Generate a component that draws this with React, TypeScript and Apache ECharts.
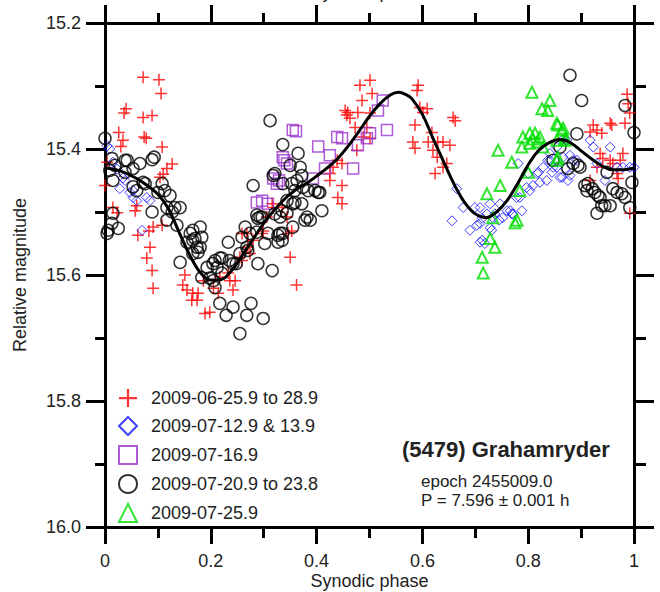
import React, { useEffect, useRef } from "react";
import * as echarts from "echarts";

const seriesNames = [
  "2009-06-25.9 to 28.9",
  "2009-07-12.9 & 13.9",
  "2009-07-16.9",
  "2009-07-20.9 to 23.8",
  "2009-07-25.9",
];

const xTicks = [0, 0.2, 0.4, 0.6, 0.8, 1];
const yTicks = [15.2, 15.4, 15.6, 15.8, 16.0];

const redCross: number[][] = [
  [0.072,15.286],[0.102,15.290],[0.106,15.312],[0.040,15.336],[0.036,15.343],[0.072,15.350],[0.089,15.347],
  [0.026,15.374],[0.074,15.381],[0.078,15.383],[0.034,15.386],[0.030,15.396],[0.108,15.397],[0.004,15.421],
  [0.127,15.424],[0.117,15.431],[0.110,15.440],[0.104,15.445],[0.000,15.458],[0.015,15.493],[0.023,15.501],
  [0.060,15.490],[0.057,15.498],[0.062,15.537],[0.083,15.530],[0.091,15.524],[0.085,15.556],[0.079,15.573],
  [0.089,15.593],[0.091,15.621],[0.108,15.521],[0.151,15.600],[0.147,15.616],[0.166,15.629],[0.155,15.624],
  [0.186,15.609],[0.205,15.621],[0.217,15.603],[0.236,15.609],[0.242,15.624],[0.255,15.572],[0.268,15.534],
  [0.280,15.545],[0.274,15.566],[0.299,15.530],[0.306,15.508],[0.318,15.493],[0.344,15.508],[0.350,15.572],
  [0.362,15.616],[0.174,15.640],[0.164,15.640],[0.189,15.661],[0.198,15.659],[0.176,15.629],[0.214,15.629],
  [0.233,15.597],[0.246,15.609],[0.259,15.577],[0.270,15.556],[0.259,15.534],[0.297,15.534],[0.316,15.487],
  [0.335,15.493],[0.346,15.534],[0.353,15.530],
  [0.501,15.291],[0.482,15.299],[0.505,15.312],[0.486,15.323],[0.454,15.339],[0.459,15.342],[0.457,15.346],
  [0.478,15.342],[0.501,15.343],[0.463,15.351],[0.473,15.366],[0.495,15.366],[0.488,15.381],[0.501,15.383],
  [0.476,15.402],[0.439,15.418],[0.431,15.429],[0.448,15.423],[0.425,15.450],[0.448,15.458],[0.440,15.477],
  [0.448,15.487],[0.425,15.439],
  [0.592,15.299],[0.590,15.307],[0.595,15.334],[0.609,15.336],[0.601,15.342],[0.658,15.350],[0.662,15.355],
  [0.586,15.362],[0.618,15.374],[0.582,15.389],[0.586,15.399],[0.611,15.389],[0.629,15.389],[0.639,15.389],
  [0.652,15.394],[0.620,15.402],[0.628,15.413],[0.646,15.423],[0.639,15.429],[0.624,15.439],
  [0.987,15.313],[0.989,15.328],[0.992,15.343],[0.983,15.359],[0.923,15.362],[0.930,15.370],[0.917,15.373],
  [0.939,15.375],[0.955,15.359],[0.958,15.362],[0.936,15.407],[0.941,15.415],[0.955,15.418],[0.960,15.423],
  [0.930,15.429],[0.979,15.407],[0.974,15.418],[0.968,15.439],[0.970,15.447],[0.917,15.450],[0.992,15.502],
];

const blueDiamond: number[][] = [
  [0.004,15.395],[0.009,15.400],[0.015,15.421],[0.023,15.432],[0.034,15.446],[0.038,15.450],[0.028,15.463],
  [0.047,15.469],[0.053,15.466],[0.053,15.477],[0.060,15.482],[0.079,15.477],[0.085,15.482],[0.070,15.529],
  [0.665,15.463],[0.656,15.514],[0.677,15.493],[0.699,15.493],[0.690,15.529],[0.703,15.521],[0.709,15.518],
  [0.709,15.548],[0.713,15.545],[0.728,15.487],[0.737,15.503],[0.752,15.509],[0.760,15.498],[0.731,15.529],
  [0.745,15.513],[0.769,15.503],[0.788,15.498],[0.778,15.477],[0.797,15.461],[0.781,15.423],[0.817,15.439],
  [0.822,15.453],[0.835,15.450],[0.841,15.418],[0.854,15.429],[0.866,15.413],[0.864,15.445],[0.875,15.450],
  [0.879,15.410],[0.873,15.386],[0.892,15.418],[0.917,15.386],[0.923,15.397],[0.955,15.397],[0.945,15.450],
  [0.930,15.423],[0.968,15.429],[0.979,15.429],[0.992,15.429],[1.000,15.429],[0.709,15.493],[0.722,15.503],
  [0.728,15.525],[0.733,15.509],[0.747,15.487],[0.766,15.498],[0.771,15.503],[0.784,15.477],[0.803,15.466],
  [0.809,15.458],[0.800,15.439],[0.819,15.437],[0.828,15.429],[0.837,15.418],[0.845,15.437],[0.847,15.429],
  [0.860,15.445],[0.870,15.431],[0.879,15.442],[0.885,15.418],[0.841,15.407],[0.854,15.397],[0.864,15.386],
  [0.718,15.550],[0.713,15.510],
];

const purpleSquare: number[][] = [
  [0.361,15.372],[0.403,15.396],[0.336,15.413],[0.344,15.423],[0.416,15.431],[0.318,15.447],[0.325,15.455],
  [0.393,15.447],[0.287,15.485],[0.297,15.482],[0.308,15.487],[0.355,15.370],[0.439,15.381],[0.448,15.383],
  [0.425,15.410],[0.469,15.431],[0.478,15.394],[0.495,15.383],[0.501,15.375],[0.516,15.339],[0.525,15.323],
  [0.533,15.370],[0.339,15.418],[0.329,15.450],
];

const blackCircle: number[][] = [
  [0.000,15.383],[0.013,15.415],[0.019,15.426],[0.015,15.450],[0.038,15.418],[0.053,15.431],[0.066,15.423],
  [0.089,15.417],[0.093,15.413],[0.060,15.466],[0.053,15.460],[0.072,15.453],[0.108,15.455],[0.123,15.474],
  [0.089,15.500],[0.117,15.493],[0.132,15.493],[0.117,15.513],[0.015,15.502],[0.004,15.534],[0.006,15.529],
  [0.025,15.526],[0.009,15.434],[0.042,15.418],[0.038,15.437],[0.076,15.455],[0.100,15.469],[0.113,15.466],
  [0.127,15.500],[0.142,15.493],[0.013,15.518],[0.136,15.521],[0.161,15.534],[0.166,15.545],[0.174,15.556],
  [0.142,15.580],[0.166,15.566],
  [0.166,15.529],[0.180,15.524],[0.170,15.542],[0.180,15.556],[0.155,15.548],[0.193,15.588],[0.183,15.604],
  [0.198,15.605],[0.217,15.573],[0.204,15.582],[0.233,15.548],[0.242,15.582],[0.255,15.566],[0.265,15.524],
  [0.274,15.534],[0.268,15.556],[0.289,15.510],[0.293,15.508],[0.287,15.532],[0.308,15.534],[0.289,15.582],
  [0.316,15.593],[0.280,15.458],[0.318,15.442],[0.336,15.393],[0.312,15.355],[0.365,15.407],[0.350,15.426],
  [0.369,15.429],[0.372,15.442],[0.336,15.455],[0.353,15.455],[0.359,15.466],[0.374,15.461],[0.344,15.482],
  [0.355,15.487],[0.335,15.498],[0.344,15.502],[0.355,15.524],[0.327,15.537],[0.336,15.534],[0.382,15.508],
  [0.378,15.513],[0.397,15.466],[0.406,15.469],[0.410,15.498],
  [0.217,15.645],[0.229,15.664],[0.255,15.693],[0.242,15.651],[0.268,15.664],[0.299,15.669],[0.276,15.645],
  [0.183,15.540],[0.176,15.564],[0.259,15.540],[0.208,15.577],[0.221,15.573],[0.212,15.588],[0.221,15.597],
  [0.205,15.609],[0.208,15.620],[0.235,15.577],[0.248,15.582],[0.270,15.561],[0.302,15.550],[0.335,15.545],
  [0.331,15.534],[0.297,15.508],[0.321,15.439],[0.287,15.505],[0.363,15.450],[0.384,15.466],[0.403,15.469],
  [0.359,15.485],[0.372,15.487],[0.388,15.513],[0.321,15.503],[0.331,15.508],[0.327,15.548],
  [0.879,15.283],[0.901,15.323],[0.983,15.331],[1.000,15.374],[0.892,15.376],[0.885,15.423],[0.894,15.426],
  [0.898,15.429],[0.907,15.458],[0.913,15.455],[0.921,15.463],[0.911,15.466],[0.926,15.469],[0.932,15.474],
  [0.936,15.477],[0.949,15.437],[0.960,15.463],[0.968,15.469],[0.977,15.471],[0.983,15.477],[0.939,15.490],
  [0.945,15.490],[0.955,15.490],[0.930,15.502],[0.992,15.493],[0.996,15.453],[0.847,15.418],[0.860,15.397],
  [0.875,15.431],
];

const greenTriangle: number[][] = [
  [0.807,15.310],[0.841,15.323],[0.826,15.336],[0.837,15.339],[0.856,15.362],[0.866,15.367],[0.790,15.381],
  [0.803,15.375],[0.813,15.375],[0.822,15.381],[0.788,15.397],[0.803,15.391],[0.817,15.389],[0.828,15.397],
  [0.854,15.386],[0.870,15.386],[0.743,15.402],[0.769,15.421],[0.854,15.418],[0.800,15.437],[0.747,15.458],
  [0.722,15.471],[0.784,15.466],[0.733,15.509],[0.775,15.517],[0.728,15.542],[0.737,15.556],[0.713,15.572],
  [0.715,15.597],[0.854,15.359],[0.809,15.384],[0.864,15.370],[0.870,15.383],[0.856,15.413],[0.779,15.513],
];

const fitPhase = [0,0.03,0.06,0.08,0.10,0.12,0.14,0.16,0.18,0.20,0.22,0.24,0.26,0.28,0.30,0.32,0.34,0.36,0.38,0.40,
  0.42,0.44,0.46,0.48,0.50,0.52,0.54,0.555,0.57,0.58,0.60,0.62,0.64,0.66,0.68,0.70,0.72,0.74,0.76,0.78,0.80,0.82,
  0.84,0.86,0.88,0.90,0.92,0.94,0.96,0.98,1.00];
const fitMag = [15.430,15.435,15.447,15.458,15.472,15.495,15.532,15.568,15.596,15.608,15.607,15.592,15.568,15.543,
  15.518,15.497,15.479,15.465,15.455,15.443,15.430,15.415,15.395,15.372,15.348,15.328,15.314,15.310,15.314,15.320,
  15.345,15.383,15.420,15.456,15.485,15.503,15.509,15.500,15.482,15.455,15.425,15.402,15.390,15.385,15.390,15.403,
  15.416,15.427,15.433,15.433,15.430];

const FONT = 'Arial, "Liberation Sans", sans-serif';
const TXT = "#222222";
const plusPath = "path://M4.375,0H5.625V4.375H10V5.625H5.625V10H4.375V5.625H0V4.375H4.375Z";

export default function App() {
  const ref = useRef<HTMLDivElement>(null);
  useEffect(() => {
    if (!ref.current) return;
    const chart = echarts.init(ref.current, null, { renderer: "svg" });
    const axisLine = { show: true, onZero: false, lineStyle: { color: "#000", width: 3 } };
    const hollow = (c: string, w: number) => ({ color: "rgba(0,0,0,0)", borderColor: c, borderWidth: w });
    chart.setOption({
      animation: false,
      backgroundColor: "#fff",
      grid: { left: 105, right: 26, top: 23, bottom: 65, containLabel: false, outerBoundsMode: "none" },
      legend: {
        orient: "vertical",
        left: 118,
        top: 389,
        padding: 0,
        itemWidth: 18,
        itemHeight: 18,
        itemGap: 9,
        selectedMode: false,
        data: seriesNames,
        textStyle: { fontFamily: FONT, fontSize: 18, color: TXT, lineHeight: 18, padding: [0, 0, 0, 9] },
      },
      xAxis: [
        {
          type: "value", position: "bottom", min: xTicks[0], max: xTicks[xTicks.length - 1], interval: 0.2,
          name: "Synodic phase", nameLocation: "middle", nameGap: 45, nameMoveOverlap: false,
          nameTextStyle: { fontFamily: FONT, fontSize: 18, lineHeight: 18, color: TXT },
          axisLine, splitLine: { show: false },
          axisTick: { show: true, length: 17, lineStyle: { color: "#000", width: 3 } },
          minorTick: { show: true, splitNumber: 2, length: 11, lineStyle: { color: "#000", width: 3 } },
          axisLabel: { margin: 25, fontFamily: FONT, fontSize: 18, lineHeight: 18, color: TXT },
        },
        {
          type: "value", position: "top", min: xTicks[0], max: xTicks[xTicks.length - 1], interval: 0.2,
          name: "Synodic phase", nameLocation: "middle", nameGap: 22, nameMoveOverlap: false,
          nameTextStyle: { fontFamily: FONT, fontSize: 18, lineHeight: 18, color: TXT },
          axisLine, splitLine: { show: false },
          axisTick: { show: true, length: 18, lineStyle: { color: "#000", width: 3 } },
          minorTick: { show: true, splitNumber: 2, length: 10, lineStyle: { color: "#000", width: 3 } },
          axisLabel: { show: false },
        },
      ],
      yAxis: [
        {
          type: "value", position: "left", inverse: true, min: yTicks[0], max: yTicks[yTicks.length - 1], interval: 0.2,
          name: "Relative magnitude", nameLocation: "middle", nameGap: 76,
          nameTextStyle: { fontFamily: FONT, fontSize: 18, color: TXT },
          axisLine, splitLine: { show: false },
          axisTick: { show: true, length: 19, lineStyle: { color: "#000", width: 3 } },
          minorTick: { show: true, splitNumber: 2, length: 10, lineStyle: { color: "#000", width: 3 } },
          axisLabel: { margin: 24, fontFamily: FONT, fontSize: 18, color: TXT, formatter: (v: number) => v.toFixed(1) },
        },
        {
          type: "value", position: "right", inverse: true, min: yTicks[0], max: yTicks[yTicks.length - 1], interval: 0.2,
          axisLine, splitLine: { show: false },
          axisTick: { show: true, length: 20, lineStyle: { color: "#000", width: 3 } },
          minorTick: { show: true, splitNumber: 2, length: 12, lineStyle: { color: "#000", width: 3 } },
          axisLabel: { show: false },
        },
      ],
      series: [
        { name: seriesNames[0], type: "scatter", data: redCross, symbol: plusPath, symbolSize: 12,
          itemStyle: { color: "#ff0000", borderWidth: 0 } },
        { name: seriesNames[1], type: "scatter", data: blueDiamond, symbol: "diamond", symbolSize: 10,
          itemStyle: hollow("#1010ff", 1) },
        { name: seriesNames[2], type: "scatter", data: purpleSquare, symbol: "rect", symbolSize: 11,
          itemStyle: hollow("#9933cc", 1.5) },
        { name: seriesNames[3], type: "scatter", data: blackCircle, symbol: "circle", symbolSize: 12,
          itemStyle: hollow("#000000", 1.5) },
        { name: seriesNames[4], type: "scatter", data: greenTriangle, symbol: "triangle", symbolSize: 11,
          itemStyle: hollow("#00dd00", 2) },
        { name: "fit", type: "line", data: fitPhase.map((p, i) => [p, fitMag[i]]), showSymbol: false, smooth: 0.4,
          lineStyle: { color: "#000", width: 3 }, z: 5 },
      ],
      graphic: [
        { type: "text", left: 402, top: 438, style: { text: "(5479) Grahamryder", font: `bold 22px ${FONT}`, fill: TXT } },
        { type: "text", left: 421, top: 472,
          style: { text: "epoch 2455009.0\nP = 7.596 \u00b1 0.001 h", font: `17px ${FONT}`, lineHeight: 19, fill: TXT } },
      ],
    });
    return () => chart.dispose();
  }, []);
  return <div ref={ref} style={{ position: "fixed", left: 0, top: 0, width: 660, height: 592, background: "#fff" }} />;
}
